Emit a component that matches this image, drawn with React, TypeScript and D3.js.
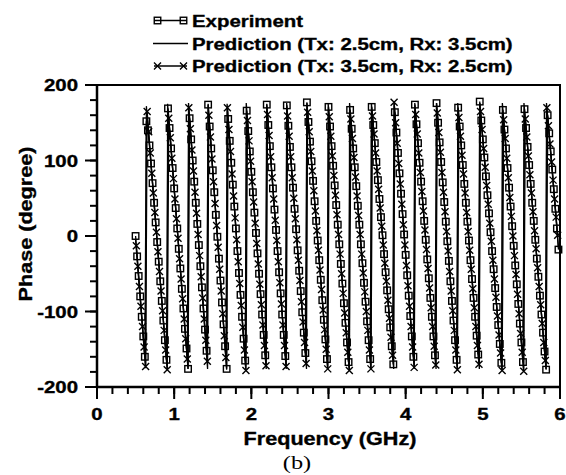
import React from 'react';
import * as d3 from 'd3';

const W = 566;
const H = 475;

const xTicks = [0, 1, 2, 3, 4, 5, 6];
const yTicks = [-200, -100, 0, 100, 200];
const xTickLabels = ['0', '1', '2', '3', '4', '5', '6'];
const yTickLabels = ['-200', '-100', '0', '100', '200'];

// Experiment: swept from 0.50 GHz in 0.02 GHz steps
const expStart = 0.5;
const expStep = 0.02;
const experimentPhase = [
  0, -27, -53, -80, -107, -133, -160,
  152, 140, 120, 96, 70, 44, 18, -8, -34, -60, -86, -112, -138, -164,
  169, 143, 116, 90, 63, 37, 10, -17, -43, -70, -96, -123, -149, -176,
  156, 128, 100, 72, 44, 16, -12, -40, -68, -96, -124, -152,
  174, 145, 116, 87, 58, 28, -1, -30, -59, -88, -117, -146, -176,
  155, 126, 97, 68, 39, 10, -20, -49, -78, -107, -136, -165,
  166, 139, 112, 85, 58, 31, 4, -23, -50, -77, -104, -131, -158,
  174, 147, 119, 91, 63, 35, 8, -20, -48, -76, -104, -131, -159,
  173, 146, 118, 91, 64, 36, 9, -19, -46, -73, -101, -128, -155,
  177, 151, 125, 99, 73, 46, 20, -6, -32, -58, -85, -111, -137, -163,
  171, 145, 119, 93, 67, 41, 15, -11, -37, -63, -89, -115, -141, -167,
  167, 142, 116, 91, 66, 40, 15, -11, -36, -62, -87, -113, -138, -163,
  171, 147, 123, 98, 74, 49, 25, 1, -24, -48, -72, -97, -121, -146, -170,
  164, 137, 110, 83, 56, 29, 2, -25, -52, -79, -106, -133, -160,
  174, 148, 123, 97, 72, 46, 20, -5, -31, -56, -82, -107, -133, -158,
  176, 150, 124, 98, 71, 45, 19, -7, -33, -60, -86, -112, -138, -164,
  170, 145, 120, 94, 69, 44, 19, -6, -32, -57, -82, -107, -132, -157,
  178, 153, 128, 104, 79, 54, 30, 5, -20, -44, -69, -94, -118, -143, -168,
  167, 141, 116, 90, 64, 39, 13, -13, -39, -64, -90, -116, -141, -167,
  168, 143, 118, 94, 69, 44, 20, -5, -30, -54, -79, -104, -128, -153, -177,
  160, 136, 112, 88, 62, 36, 10, -18,
];

// Prediction (Tx: 3.5cm, Rx: 2.5cm): from 0.51 GHz in 0.02 GHz steps
const predXStart = 0.51;
const predXStep = 0.02;
const predXPhase = [
  -13, -40, -67, -93, -120, -147, -173,
  165, 138, 110, 83, 57, 31, 5, -21, -47, -73, -99, -125, -151, -177,
  156, 130, 103, 76, 49, 23, -3, -30, -57, -83, -110, -136, -163,
  170, 142, 114, 86, 58, 30, 2, -26, -54, -82, -110, -138, -166,
  160, 131, 102, 72, 43, 14, -15, -44, -73, -103, -132, -161,
  170, 141, 112, 82, 53, 24, -5, -34, -63, -92, -121, -151, -178,
  153, 126, 99, 72, 45, 17, -10, -37, -64, -91, -118, -145, -172,
  161, 133, 105, 77, 49, 21, -6, -34, -62, -90, -118, -145, -173,
  159, 132, 105, 77, 50, 23, -5, -32, -59, -87, -114, -141, -169,
  164, 138, 112, 86, 60, 33, 7, -19, -45, -71, -98, -124, -150, -176,
  158, 132, 106, 80, 54, 28, 2, -24, -50, -76, -102, -128, -154, -178,
  155, 129, 104, 78, 53, 27, 2, -24, -49, -74, -100, -125, -151, -176,
  159, 135, 110, 86, 62, 37, 13, -12, -36, -60, -85, -109, -134, -158,
  177, 150, 123, 96, 69, 42, 15, -12, -39, -66, -93, -120, -147, -174,
  161, 135, 110, 84, 59, 33, 8, -18, -43, -69, -95, -120, -146, -171,
  163, 137, 111, 84, 58, 32, 6, -20, -47, -73, -99, -125, -151, -177,
  157, 132, 107, 82, 57, 31, 6, -19, -44, -70, -95, -120, -145, -170,
  165, 141, 116, 91, 67, 42, 17, -7, -32, -57, -81, -106, -131, -155, -178,
  154, 129, 103, 77, 51, 26, 0, -26, -51, -77, -103, -129, -154, -179,
  155, 131, 106, 81, 57, 32, 7, -17, -42, -67, -91, -116, -141, -165,
  170, 146, 122, 98, 74, 49, 25, 1,
];

// Prediction (Tx: 2.5cm, Rx: 3.5cm): line vertices
const predLineFreq = [
  0.5, 0.63, 0.64, 0.91, 0.915, 1.18, 1.186, 1.433, 1.44, 1.68, 1.686, 1.927,
  1.934, 2.193, 2.2, 2.452, 2.458, 2.715, 2.72, 2.99, 2.996, 3.267, 3.273, 3.55,
  3.556, 3.845, 3.851, 4.112, 4.118, 4.394, 4.4, 4.669, 4.675, 4.955, 4.961, 5.247,
  5.253, 5.527, 5.533, 5.819, 5.825, 5.98,
];
const predLinePhase = [
  -5, -175, 172, -176, 175, -176, 176, -176, 175, -177, 175, -176,
  176, -176, 175, -176, 176, -176, 176, -176, 175, -176, 176, -176,
  176, -176, 176, -176, 176, -176, 176, -176, 176, -176, 176, -176,
  176, -176, 176, -176, 176, -15,
];

const legendLabels = [
  'Experiment',
  'Prediction (Tx: 2.5cm, Rx: 3.5cm)',
  'Prediction (Tx: 3.5cm, Rx: 2.5cm)',
];

const SANS = "'Liberation Sans', Arial, Helvetica, sans-serif";
const SERIF = "'Liberation Serif', 'Times New Roman', serif";

function Txt(props: {
  x: number; y: number; anchor?: string; size: number; rotate?: boolean;
  sx?: number; family?: string; weight?: string; heavy?: boolean; children: React.ReactNode;
}) {
  const { x, y, anchor = 'start', size, rotate, sx = 1.2, family = SANS, weight = 'bold', heavy = true, children } = props;
  return (
    <text
      transform={`translate(${x},${y})${rotate ? ' rotate(-90)' : ''} scale(${sx},1)`}
      textAnchor={anchor}
      fontSize={size}
      fontFamily={family}
      fontWeight={weight}
      fill="#000"
      stroke={heavy ? '#000' : 'none'}
      strokeWidth={heavy ? 0.35 : 0}
    >
      {children}
    </text>
  );
}

export default function App() {
  const x = d3.scaleLinear().domain([0, 6]).range([97, 560]);
  const y = d3.scaleLinear().domain([-200, 200]).range([387, 85]);

  const expPts: [number, number][] = experimentPhase.map((p, i) => [expStart + i * expStep, p]);
  const predXPts: [number, number][] = predXPhase.map((p, i) => [predXStart + i * predXStep, p]);
  const predLinePts: [number, number][] = predLineFreq.map((f, i) => [f, predLinePhase[i]]);

  const line = d3.line<[number, number]>().x((d) => x(d[0])).y((d) => y(d[1]));

  const xMinor = d3.range(0, 6.0001, 0.2);
  const yMinor = d3.range(-200, 200.001, 20);

  const sq = 6.5;
  const xs = 3.5;

  const xMark = (cx: number, cy: number, k: string) => (
    <path
      key={k}
      d={`M${cx - xs},${cy - xs}L${cx + xs},${cy + xs}M${cx - xs},${cy + xs}L${cx + xs},${cy - xs}`}
      stroke="#000"
      strokeWidth={1.4}
      fill="none"
    />
  );
  const sqMark = (cx: number, cy: number, k: string) => (
    <rect key={k} x={cx - sq / 2} y={cy - sq / 2} width={sq} height={sq} fill="none" stroke="#000" strokeWidth={1.4} />
  );

  const legendRows = [20.5, 43.5, 66];

  return (
    <svg
      width={W}
      height={H}
      viewBox={`0 0 ${W} ${H}`}
      style={{ position: 'absolute', left: 0, top: 0, background: '#fff' }}
    >
      <rect x={0} y={0} width={W} height={H} fill="#fff" />

      {/* series */}
      <path d={line(predLinePts) || ''} fill="none" stroke="#000" strokeWidth={1.3} />
      <path d={line(expPts) || ''} fill="none" stroke="#000" strokeWidth={1.3} />
      <path d={line(predXPts) || ''} fill="none" stroke="#000" strokeWidth={1.3} />
      {expPts.map((d, i) => sqMark(x(d[0]), y(d[1]), 'e' + i))}
      {predXPts.map((d, i) => xMark(x(d[0]), y(d[1]), 'x' + i))}

      {/* frame */}
      <rect x={x(0)} y={y(200)} width={x(6) - x(0)} height={y(-200) - y(200)} fill="none" stroke="#000" strokeWidth={2} />
      <line x1={x(0)} x2={x(6)} y1={y(-200)} y2={y(-200)} stroke="#000" strokeWidth={2.5} />
      <line x1={x(0)} x2={x(0)} y1={y(200)} y2={y(-200)} stroke="#000" strokeWidth={2.5} />

      {/* x ticks */}
      {xMinor.map((v, i) => (
        <line key={'xm' + i} x1={x(v)} x2={x(v)} y1={y(-200)} y2={y(-200) + 7} stroke="#000" strokeWidth={2} />
      ))}
      {xTicks.map((v, i) => (
        <line key={'xM' + i} x1={x(v)} x2={x(v)} y1={y(-200)} y2={y(-200) + 12} stroke="#000" strokeWidth={2} />
      ))}
      {xTicks.map((v, i) => (
        <Txt key={'xl' + i} x={x(v)} y={420} anchor="middle" size={17}>{xTickLabels[i]}</Txt>
      ))}

      {/* y ticks */}
      {yMinor.map((v, i) => (
        <line key={'ym' + i} x1={x(0) - 7} x2={x(0)} y1={y(v)} y2={y(v)} stroke="#000" strokeWidth={2} />
      ))}
      {yTicks.map((v, i) => (
        <line key={'yM' + i} x1={x(0) - 12} x2={x(0)} y1={y(v)} y2={y(v)} stroke="#000" strokeWidth={2} />
      ))}
      {yTicks.map((v, i) => (
        <Txt key={'yl' + i} x={78} y={y(v) + 6} anchor="end" size={17}>{yTickLabels[i]}</Txt>
      ))}

      {/* axis titles */}
      <Txt x={330} y={445} anchor="middle" size={18}>Frequency (GHz)</Txt>
      <Txt x={32} y={224} anchor="middle" size={18} rotate>Phase (degree)</Txt>
      <Txt x={297} y={469} anchor="middle" size={18} sx={1.35} family={SERIF} weight="normal" heavy={false}>(b)</Txt>

      {/* legend */}
      <line x1={154} x2={187} y1={legendRows[0]} y2={legendRows[0]} stroke="#000" strokeWidth={1.5} />
      {sqMark(157.5, legendRows[0], 'l1a')}
      {sqMark(183.5, legendRows[0], 'l1b')}
      <line x1={153} x2={188} y1={legendRows[1]} y2={legendRows[1]} stroke="#000" strokeWidth={1.5} />
      <line x1={154} x2={187} y1={legendRows[2]} y2={legendRows[2]} stroke="#000" strokeWidth={1.5} />
      {xMark(157.5, legendRows[2], 'l3a')}
      {xMark(183.5, legendRows[2], 'l3b')}
      {legendLabels.map((t, i) => (
        <Txt key={'lg' + i} x={192} y={legendRows[i] + 6} size={17}>{t}</Txt>
      ))}
    </svg>
  );
}
